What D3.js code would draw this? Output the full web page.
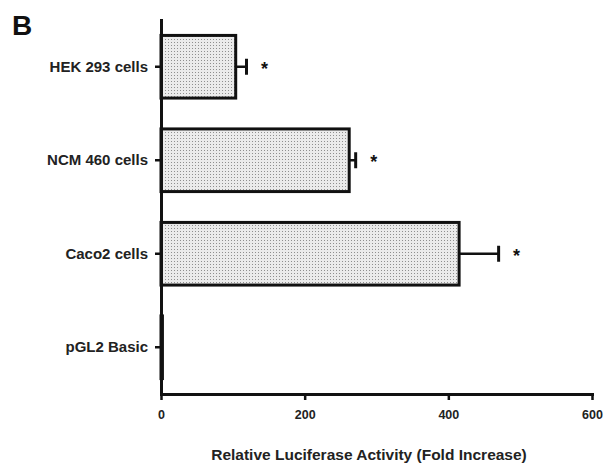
<!DOCTYPE html>
<html>
<head>
<meta charset="utf-8">
<script src="https://cdn.jsdelivr.net/npm/d3@7"></script>
<style>
  html, body { margin: 0; padding: 0; background: #fff; }
  svg { display: block; font-family: "Liberation Sans", Arial, Helvetica, sans-serif; }
</style>
</head>
<body>
<svg id="chart" width="603" height="463"></svg>
<script>
// Luciferase reporter activity per cell line (fold increase over pGL2 Basic)
const categories = ["HEK 293 cells", "NCM 460 cells", "Caco2 cells", "pGL2 Basic"];
const foldIncrease = [104, 262, 415, 2];
const errorSEM = [15, 9, 55, 0];
const significant = [true, true, true, false];
const xTicks = [0, 200, 400, 600];
const xTitle = "Relative Luciferase Activity (Fold Increase)";
const panelLabel = "B";

const svg = d3.select("#chart");

const x = d3.scaleLinear().domain([0, 600]).range([161, 592]);
const y = d3.scaleBand().domain(categories).range([20, 394])
  .paddingInner(0.33).paddingOuter(0.165);

// dotted stipple fill for the bars
const defs = svg.append("defs");
const pat = defs.append("pattern")
  .attr("id", "stipple").attr("patternUnits", "userSpaceOnUse")
  .attr("width", 3).attr("height", 3);
pat.append("rect").attr("width", 3).attr("height", 3).attr("fill", "#ebebeb");
pat.append("rect").attr("x", 0).attr("y", 0).attr("width", 1).attr("height", 1).attr("fill", "#8f8f8f");

const rows = categories.map((c, i) => ({ c, v: foldIncrease[i], e: errorSEM[i], s: significant[i] }));

// bars
svg.append("g").selectAll("rect").data(rows).join("rect")
  .attr("x", x(0))
  .attr("y", d => y(d.c))
  .attr("width", d => x(d.v) - x(0))
  .attr("height", y.bandwidth())
  .attr("fill", "url(#stipple)")
  .attr("stroke", "#111")
  .attr("stroke-width", 3);

// error bars (one-sided, to the right)
const eb = svg.append("g").selectAll("g").data(rows.filter(d => d.e > 0)).join("g");
eb.append("line")
  .attr("x1", d => x(d.v)).attr("x2", d => x(d.v + d.e))
  .attr("y1", d => y(d.c) + y.bandwidth() / 2).attr("y2", d => y(d.c) + y.bandwidth() / 2)
  .attr("stroke", "#111").attr("stroke-width", 2.5);
eb.append("line")
  .attr("x1", d => x(d.v + d.e)).attr("x2", d => x(d.v + d.e))
  .attr("y1", d => y(d.c) + y.bandwidth() / 2 - 8).attr("y2", d => y(d.c) + y.bandwidth() / 2 + 8)
  .attr("stroke", "#111").attr("stroke-width", 3);

// significance markers
svg.append("g").selectAll("text").data(rows.filter(d => d.s)).join("text")
  .attr("x", d => x(d.v + d.e) + 18)
  .attr("y", d => y(d.c) + y.bandwidth() / 2 + 8)
  .attr("text-anchor", "middle")
  .attr("font-size", 18).attr("font-weight", "bold").attr("fill", "#111")
  .text("*");

// axes
const xAxis = svg.append("g").attr("transform", "translate(0,394)")
  .call(d3.axisBottom(x).tickValues(xTicks).tickSize(6).tickSizeOuter(0).tickPadding(10));
const yAxis = svg.append("g").attr("transform", "translate(161,0)")
  .call(d3.axisLeft(y).tickSize(6).tickSizeOuter(0).tickPadding(7));

[xAxis, yAxis].forEach(g => {
  g.select(".domain").attr("stroke", "#111").attr("stroke-width", 3).attr("stroke-linecap", "square");
  g.selectAll(".tick line").attr("stroke", "#111").attr("stroke-width", 2.5);
  g.selectAll(".tick text").attr("fill", "#222").attr("font-weight", "bold")
    .attr("font-family", "'Liberation Sans', Arial, sans-serif");
});
xAxis.selectAll(".tick text").attr("font-size", 12.5);
yAxis.selectAll(".tick text").attr("font-size", 15);

// axis title
svg.append("text")
  .attr("x", 369).attr("y", 460)
  .attr("text-anchor", "middle")
  .attr("font-size", 15.5).attr("font-weight", "bold").attr("fill", "#222")
  .text(xTitle);

// panel letter
svg.append("text")
  .attr("x", 12).attr("y", 35)
  .attr("font-size", 28).attr("font-weight", "bold").attr("fill", "#111")
  .text(panelLabel);
</script>
</body>
</html>
